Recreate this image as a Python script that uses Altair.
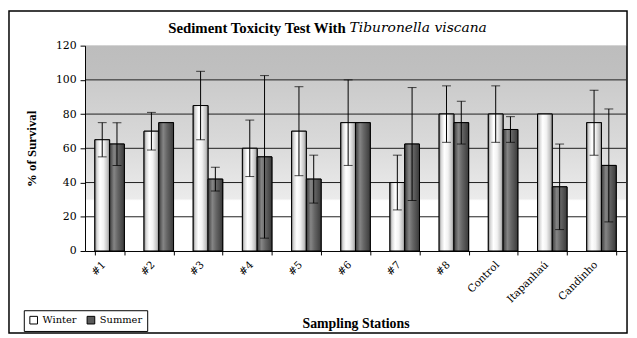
import altair as alt
import pandas as pd

stations = ["#1", "#2", "#3", "#4", "#5", "#6", "#7", "#8", "Control", "Itapanhaú", "Candinho"]
seasons = ["Winter", "Summer"]
winter = [65, 70, 85, 60, 70, 75, 40, 80, 80, 80, 75]
winter_err = [10, 11, 20, 16.5, 26, 25, 16, 16.5, 16.5, 0, 19]
summer = [62.5, 75, 42, 55, 42, 75, 62.5, 75, 71, 37.5, 50]
summer_err = [12.5, 0, 7, 47.5, 14, 0, 33, 12.5, 7.5, 25, 33]
y_ticks = [0, 20, 40, 60, 80, 100, 120]
grid_values = [20, 40, 60, 80, 100]

rows = []
for i, s in enumerate(stations):
    for season, vals, errs in (("Winter", winter, winter_err), ("Summer", summer, summer_err)):
        v, e = vals[i], errs[i]
        rows.append({"station": s, "season": season, "value": v, "err": e,
                     "lo": v - e, "hi": v + e})
df = pd.DataFrame(rows)

SERIF = "DejaVu Serif"
TSERIF = "Liberation Serif"

x_axis = alt.Axis(title="Sampling Stations", labelAngle=-45, labelAlign="right",
                  labelBaseline="middle", labelOffset=-6, labelPadding=8,
                  labelFont=SERIF, labelFontSize=10.5, labelColor="black",
                  labelOverlap=False,
                  tickBand="extent", tickSize=4, tickColor="black",
                  domainColor="black", titleFont=TSERIF, titleFontSize=14,
                  titleFontWeight="bold", titleColor="black",
                  titleY=74, titleBaseline="middle", zindex=1)
x_scale = alt.Scale(paddingInner=0.4, paddingOuter=0.2)
x_enc = alt.X("station:N", sort=stations, scale=x_scale, axis=x_axis)
xo_enc = alt.XOffset("season:N", sort=seasons,
                     scale=alt.Scale(domain=seasons, paddingInner=0, paddingOuter=0))
y_scale = alt.Scale(domain=[0, 120])
y_axis = alt.Axis(title="% of Survival", values=y_ticks, grid=False,
                  labelOverlap=False, labelFlush=False,
                  labelFont=SERIF, labelFontSize=11, labelColor="black",
                  labelPadding=4, tickSize=5, tickColor="black",
                  domainColor="black", titleFont=TSERIF, titleFontSize=13,
                  titleFontWeight="bold", titleColor="black",
                  titleX=-54, titleY=104, titleAngle=-90,
                  titleAlign="center", titleBaseline="middle", zindex=1)


def yq(field):
    return alt.Y(field, type="quantitative", scale=y_scale, axis=y_axis)


bg_grad = alt.Gradient(gradient="linear", x1=0, x2=0, y1=0, y2=1, stops=[
    alt.GradientStop(offset=0, color="#bdbdbd"),
    alt.GradientStop(offset=0.16, color="#c0c0c0"),
    alt.GradientStop(offset=0.175, color="#cbcbcb"),
    alt.GradientStop(offset=0.45, color="#d8d8d8"),
    alt.GradientStop(offset=0.745, color="#ebebeb"),
    alt.GradientStop(offset=0.755, color="#ffffff"),
    alt.GradientStop(offset=1, color="#ffffff"),
])
win_grad = alt.Gradient(gradient="linear", x1=0, x2=1, y1=0, y2=0, stops=[
    alt.GradientStop(offset=0, color="#8a8a8a"),
    alt.GradientStop(offset=0.15, color="#d8d8d8"),
    alt.GradientStop(offset=0.35, color="#ffffff"),
    alt.GradientStop(offset=0.6, color="#f2f2f2"),
    alt.GradientStop(offset=0.85, color="#c4c4c4"),
    alt.GradientStop(offset=1, color="#8a8a8a"),
])
sum_grad = alt.Gradient(gradient="linear", x1=0, x2=1, y1=0, y2=0, stops=[
    alt.GradientStop(offset=0, color="#3c3c3c"),
    alt.GradientStop(offset=0.3, color="#858585"),
    alt.GradientStop(offset=0.55, color="#666666"),
    alt.GradientStop(offset=1, color="#3a3a3a"),
])

one = pd.DataFrame({"k": [0]})
background = alt.Chart(one).mark_rect(fill=bg_grad).encode(
    x=alt.value(0), x2=alt.value("width"), y=alt.value(0), y2=alt.value("height"))

grid = alt.Chart(pd.DataFrame({"g": grid_values})).mark_rule(
    color="#1e1e1e", strokeWidth=1).encode(y=yq("g"))

base = alt.Chart(df)
bars = base.mark_bar(stroke="black", strokeWidth=1).encode(
    x=x_enc, xOffset=xo_enc, y=yq("value"),
    color=alt.Color("season:N", sort=seasons,
                    scale=alt.Scale(domain=seasons, range=["#ffffff", "#5a5a5a"]),
                    legend=alt.Legend(title=None, orient="none", legendX=-62, legendY=268,
                                      direction="horizontal", strokeColor="black",
                                      fillColor="white", padding=5, symbolType="square",
                                      symbolSize=60, symbolStrokeColor="black",
                                      symbolStrokeWidth=1, labelFont=SERIF,
                                      labelFontSize=10, labelColor="black",
                                      columnPadding=8, labelOffset=4)))
win_bars = base.transform_filter(alt.datum.season == "Winter").mark_bar(
    fill=win_grad, stroke="black", strokeWidth=1).encode(x=x_enc, xOffset=xo_enc, y=yq("value"))
sum_bars = base.transform_filter(alt.datum.season == "Summer").mark_bar(
    fill=sum_grad, stroke="black", strokeWidth=1).encode(x=x_enc, xOffset=xo_enc, y=yq("value"))

errs = base.transform_filter(alt.datum.err > 0)
err_rule = errs.mark_rule(color="black", strokeWidth=1).encode(
    x=x_enc, xOffset=xo_enc, y=yq("lo"), y2="hi:Q")
cap_hi = errs.mark_tick(color="black", thickness=1, size=9).encode(
    x=x_enc, xOffset=xo_enc, y=yq("hi"))
cap_lo = errs.mark_tick(color="black", thickness=1, size=9).encode(
    x=x_enc, xOffset=xo_enc, y=yq("lo"))

title_a = alt.Chart(pd.DataFrame({"t": ["Sediment Toxicity Test With"]})).mark_text(
    font=TSERIF, fontSize=15, fontWeight="bold", align="right", baseline="middle",
    color="black").encode(text="t:N", x=alt.value(264), y=alt.value(-18))
title_b = alt.Chart(pd.DataFrame({"t": ["Tiburonella viscana"]})).mark_text(
    font="DejaVu Serif", fontSize=14, fontStyle="italic", align="left", baseline="middle",
    color="black").encode(text="t:N", x=alt.value(268), y=alt.value(-18))

frame = alt.Chart(one).mark_rect(fillOpacity=0, stroke="black", strokeWidth=1.5).encode(
    x=alt.value(-77), x2=alt.value(549), y=alt.value(-35), y2=alt.value(291))

chart = alt.layer(background, grid, bars, win_bars, sum_bars, err_rule, cap_hi, cap_lo,
                  title_a, title_b, frame).properties(
    width=548, height=208,
    autosize=alt.AutoSizeParams(type="none"),
    padding={"left": 78, "top": 36, "right": 3, "bottom": 86},
    background="white",
).configure_view(stroke="#a0a0a0", strokeWidth=1).configure_axis(labelOverlap=False)

chart.save("out.html", embed_options={"renderer": "svg", "actions": False})
